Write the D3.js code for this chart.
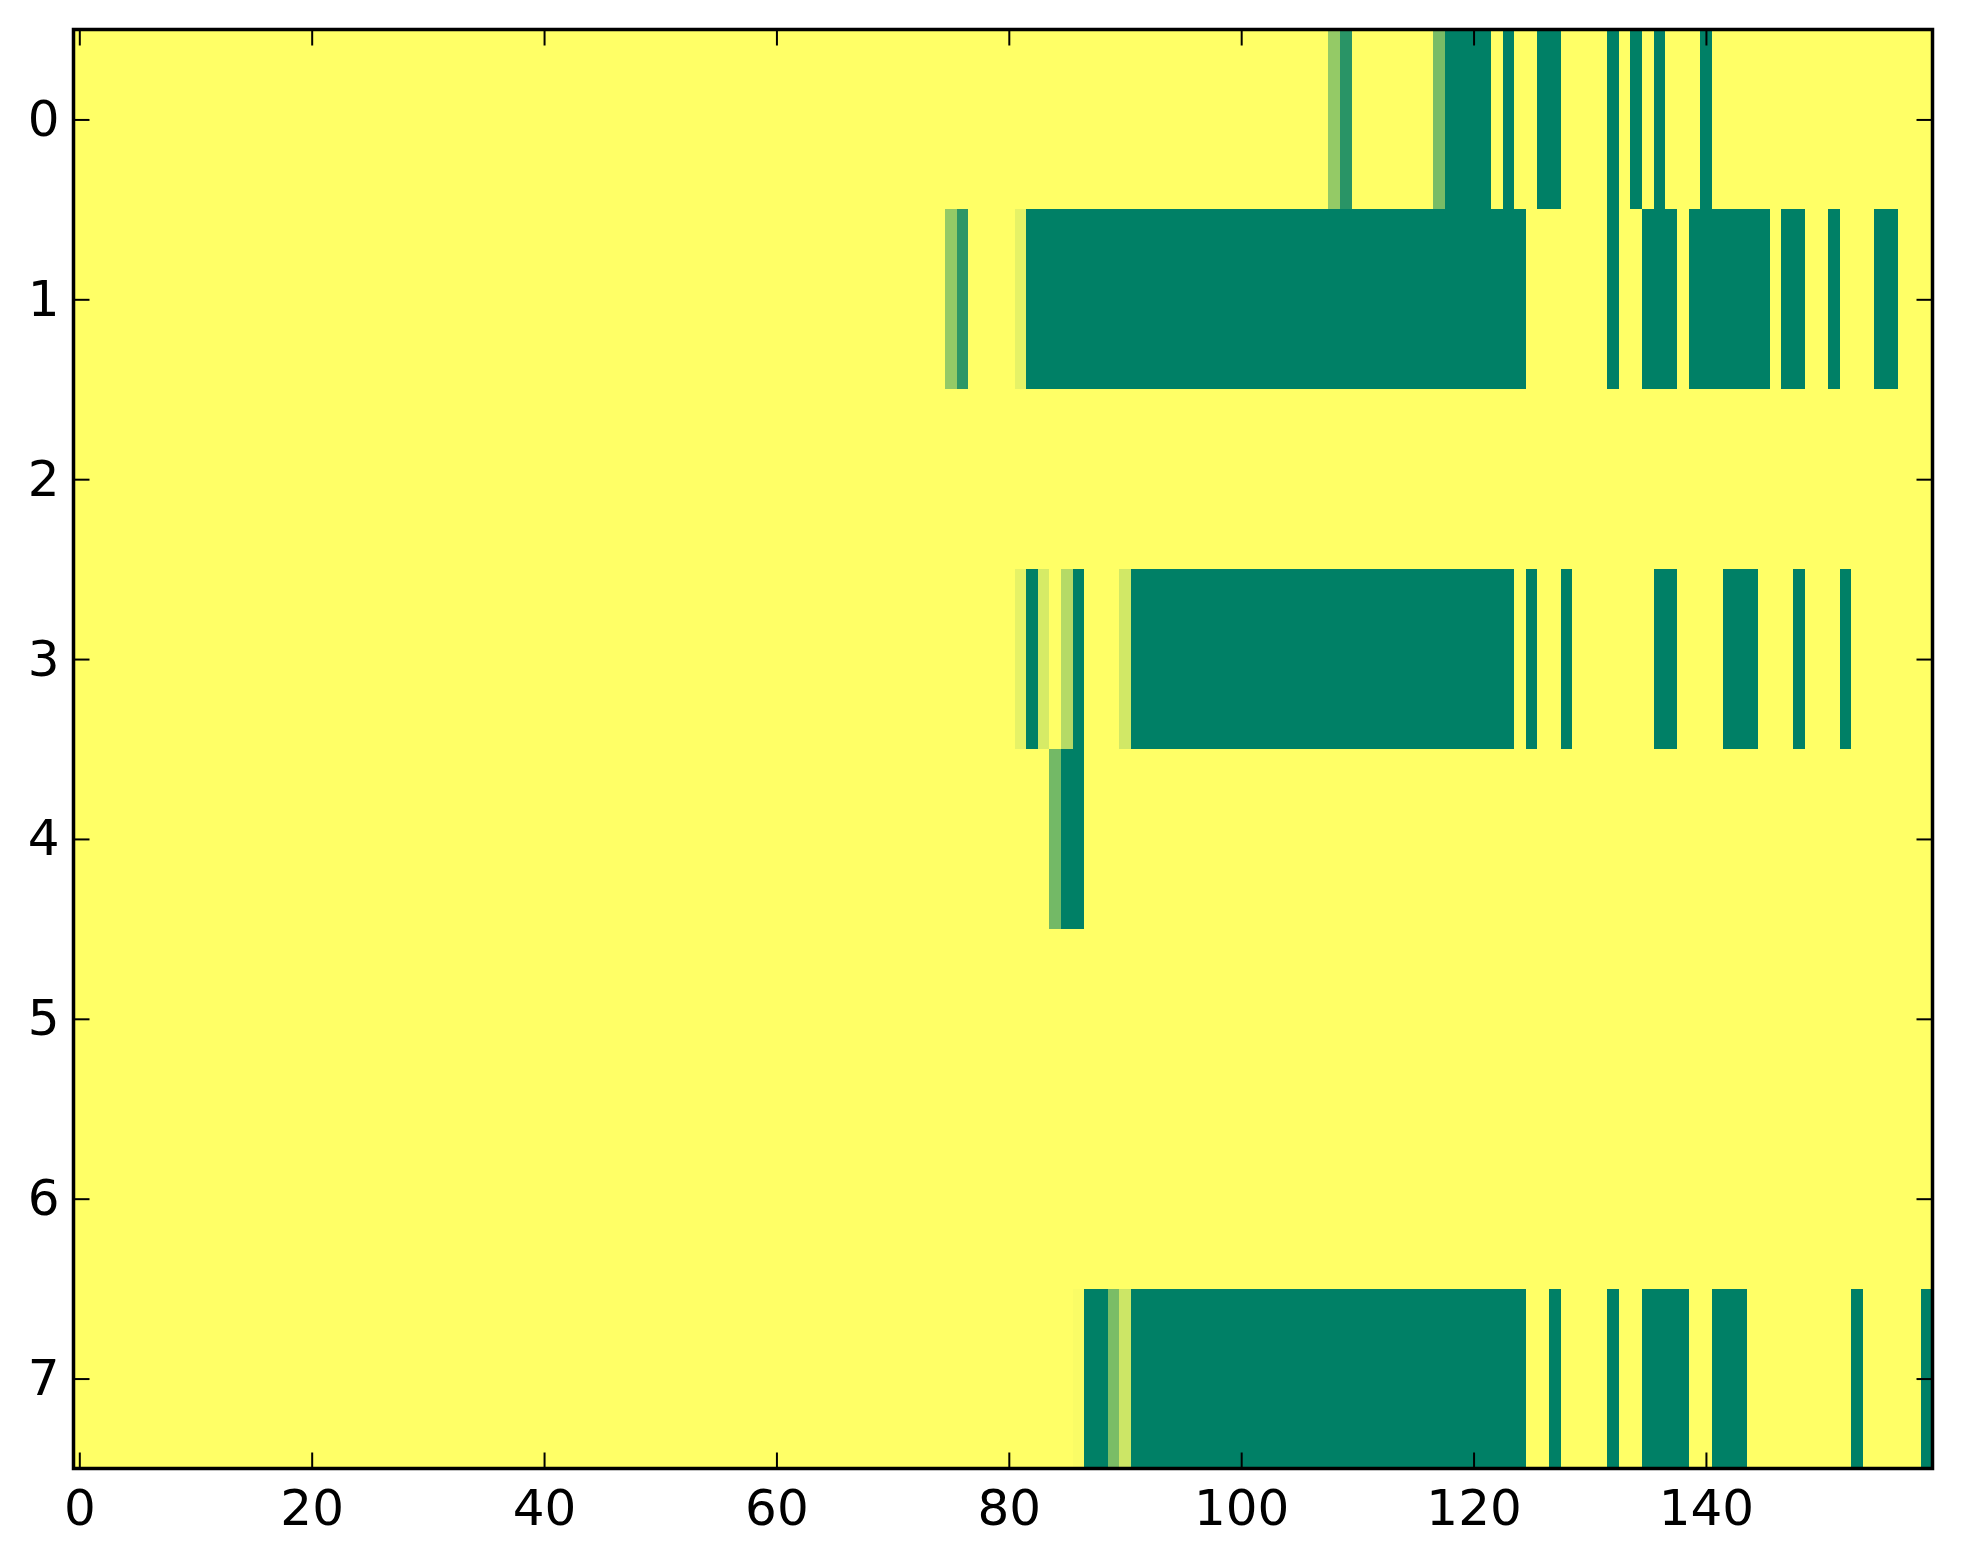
<!DOCTYPE html>
<html>
<head>
<meta charset="utf-8">
<script src="https://cdn.jsdelivr.net/npm/d3@7"></script>
<style>
  html, body { margin: 0; padding: 0; background: #ffffff; }
  svg { display: block; }
  .tick text { font-family: "DejaVu Sans", sans-serif; font-size: 50px; fill: #000; }
</style>
</head>
<body>
<svg id="chart" width="1963" height="1564"></svg>
<script>
// Heatmap data: 8 rows x 160 columns; listed runs are [startCol, endCol, value], all other cells = 0
const nCols = 160;
const rowLabels = [0, 1, 2, 3, 4, 5, 6, 7];
const row0 = [[108,108,0.42],[109,109,0.84],[117,117,0.53],[118,121,1],[123,123,1],[126,127,1],[132,132,1],[134,134,1],[136,136,1],[140,140,1]];
const row1 = [[75,75,0.42],[76,76,0.82],[81,81,0.1],[82,124,1],[132,132,1],[135,137,1],[139,145,1],[147,148,1],[151,151,1],[155,156,1]];
const row2 = [];
const row3 = [[81,81,0.1],[82,82,1],[83,83,0.16],[85,85,0.29],[86,86,1],[90,90,0.18],[91,123,1],[125,125,1],[128,128,1],[136,137,1],[142,144,1],[148,148,1],[152,152,1]];
const row4 = [[84,84,0.55],[85,86,1]];
const row5 = [];
const row6 = [];
const row7 = [[86,86,0.02],[87,88,1],[89,89,0.52],[90,90,0.2],[91,124,1],[127,127,1],[132,132,1],[135,138,1],[141,143,1],[153,153,1],[159,159,1]];
const xTicks = [0, 20, 40, 60, 80, 100, 120, 140];
const yTicks = [0, 1, 2, 3, 4, 5, 6, 7];

(function () {
  const rows = [row0, row1, row2, row3, row4, row5, row6, row7];

  // expand into cells
  const cells = [];
  rows.forEach((runs, r) => {
    const vals = new Array(nCols).fill(0);
    runs.forEach(([s, e, v]) => { for (let c = s; c <= e; c++) vals[c] = v; });
    vals.forEach((v, c) => cells.push({ r, c, v }));
  });

  const pLeft = 73.5, pRight = 1932.5, pTop = 29.5, pBottom = 1468.5;
  const x = d3.scaleLinear().domain([-0.5, nCols - 0.5]).range([pLeft, pRight]);
  const y = d3.scaleLinear().domain([-0.5, rowLabels.length - 0.5]).range([pTop, pBottom]);
  // matplotlib summer_r colormap
  const color = d3.scaleLinear().domain([0, 1]).range(["#ffff66", "#008066"]).interpolate(d3.interpolateRgb);

  const svg = d3.select("#chart");

  svg.append("g")
    .selectAll("rect")
    .data(cells)
    .join("rect")
    .attr("x", d => x(d.c - 0.5))
    .attr("y", d => y(d.r - 0.5))
    .attr("width", d => x(d.c + 0.5) - x(d.c - 0.5) + 0.3)
    .attr("height", d => y(d.r + 0.5) - y(d.r - 0.5) + 0.3)
    .attr("fill", d => color(d.v))
    .attr("shape-rendering", "crispEdges");

  const tickLen = 16;
  function styleAxis(g) {
    g.select(".domain").remove();
    g.selectAll(".tick line").attr("stroke", "#000").attr("stroke-width", 2);
  }

  svg.append("g")
    .attr("transform", `translate(0,${pBottom})`)
    .call(d3.axisBottom(x).tickValues(xTicks).tickFormat(d3.format("d")).tickSize(-tickLen).tickPadding(21))
    .call(styleAxis);

  svg.append("g")
    .attr("transform", `translate(0,${pTop})`)
    .call(d3.axisTop(x).tickValues(xTicks).tickFormat("").tickSize(-tickLen))
    .call(styleAxis);

  svg.append("g")
    .attr("transform", `translate(${pLeft},0)`)
    .call(d3.axisLeft(y).tickValues(yTicks).tickFormat(d3.format("d")).tickSize(-tickLen).tickPadding(14))
    .call(styleAxis);

  svg.append("g")
    .attr("transform", `translate(${pRight},0)`)
    .call(d3.axisRight(y).tickValues(yTicks).tickFormat("").tickSize(-tickLen))
    .call(styleAxis);

  svg.append("rect")
    .attr("x", pLeft).attr("y", pTop)
    .attr("width", pRight - pLeft).attr("height", pBottom - pTop)
    .attr("fill", "none").attr("stroke", "#000").attr("stroke-width", 3.5);
})();
</script>
</body>
</html>
